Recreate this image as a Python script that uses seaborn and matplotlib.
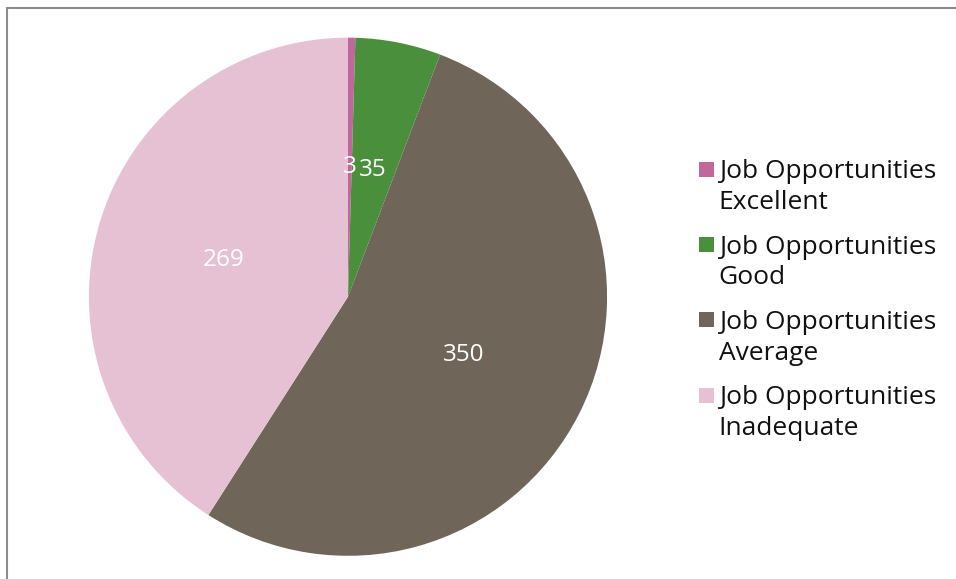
import matplotlib
matplotlib.use("Agg")
import matplotlib.pyplot as plt
from matplotlib.lines import Line2D
from matplotlib.patches import Rectangle
from matplotlib.legend_handler import HandlerPatch
import seaborn as sns

categories = [
    "Job Opportunities\nExcellent",
    "Job Opportunities\nGood",
    "Job Opportunities\nAverage",
    "Job Opportunities\nInadequate",
]
counts = [3, 35, 350, 269]
colors = ["#C0679B", "#4A8F3C", "#6F6659", "#E6C1D4"]

sns.set_theme(style="white")
plt.rcParams["font.family"] = ["Open Sans", "DejaVu Sans"]

fig = plt.figure(figsize=(9.56, 5.79), dpi=100)
ax = fig.add_axes([0.093, 0.040, 0.542, 0.895])

wedges, texts, autotexts = ax.pie(
    counts,
    colors=sns.color_palette(colors),
    startangle=90,
    counterclock=False,
    autopct=lambda p: f"{round(p * sum(counts) / 100):d}",
    pctdistance=0.5,
    wedgeprops=dict(linewidth=0),
    textprops=dict(color="white", fontsize=17.5),
)
ax.set_xlim(-1, 1)
ax.set_ylim(-1, 1)
ax.set_aspect("equal")
ax.axis("off")


def first_line_square(legend, orig_handle, xdescent, ydescent, width, height, fontsize):
    # square marker aligned with the first line of a two-line label
    side = height
    return Rectangle((-xdescent, -ydescent + 0.68 * fontsize), side, side)


leg = fig.legend(
    wedges,
    categories,
    loc="upper left",
    bbox_to_anchor=(0.720, 0.743),
    frameon=False,
    fontsize=19,
    handlelength=0.5,
    handleheight=0.5,
    handletextpad=0.25,
    labelspacing=0.74,
    borderaxespad=0,
    handler_map={w: HandlerPatch(patch_func=first_line_square) for w in wedges},
)
for t in leg.get_texts():
    t.set_color("#111111")
    t.set_linespacing(1.3)

# outer frame on the top and left edges
fig.add_artist(Line2D([0.0075, 0.0075], [0.0, 0.986], transform=fig.transFigure,
                      color="#8c8c8c", linewidth=1.5))
fig.add_artist(Line2D([0.0075, 1.0], [0.986, 0.986], transform=fig.transFigure,
                      color="#8c8c8c", linewidth=1.5))

fig.savefig("out.png", dpi=100)
